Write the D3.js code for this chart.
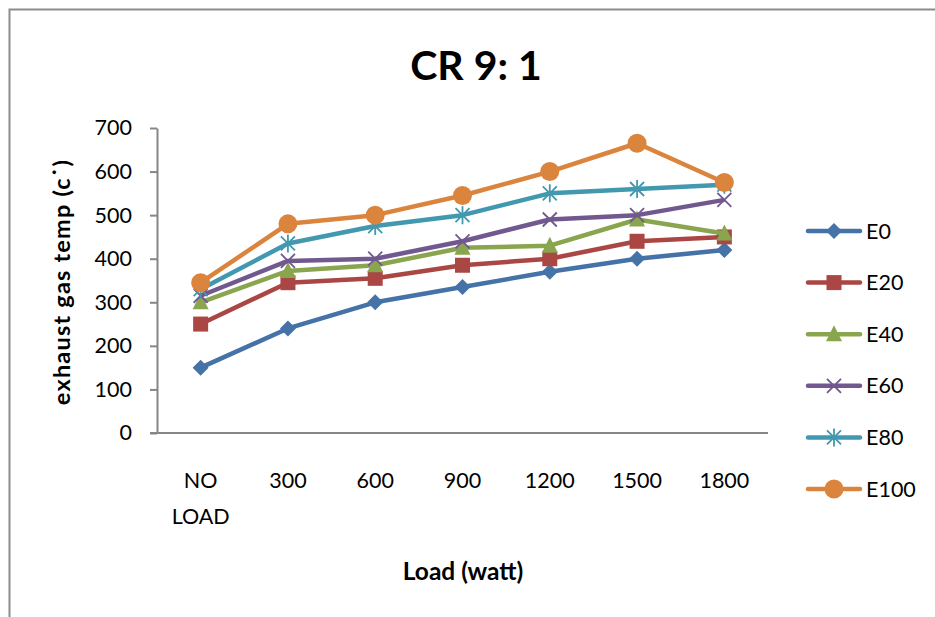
<!DOCTYPE html>
<html>
<head>
<meta charset="utf-8">
<script src="https://cdn.jsdelivr.net/npm/d3@7"></script>
<style>
	body { margin: 0; background: #fff; }
	svg { display: block; font-family: Lato, "Open Sans", sans-serif; }
</style>
</head>
<body>
<svg id="chart_svg"></svg>
<script>
// Chart data
const loads = ["NO LOAD", "300", "600", "900", "1200", "1500", "1800"];
const seriesNames = ["E0", "E20", "E40", "E60", "E80", "E100"];
const e0 = [150, 240, 300, 335, 370, 400, 420];
const e20 = [250, 345, 355, 385, 400, 440, 450];
const e40 = [300, 372, 385, 425, 430, 490, 458];
const e60 = [315, 395, 400, 440, 490, 500, 535];
const e80 = [330, 435, 475, 500, 550, 560, 570];
const e100 = [345, 480, 500, 545, 600, 665, 575];
const yTicks = [0, 100, 200, 300, 400, 500, 600, 700];

const seriesValues = [e0, e20, e40, e60, e80, e100];
const seriesColors = ["#4572A7", "#AA4643", "#89A54E", "#71588F", "#4198AF", "#DB843D"];
const seriesMarkers = ["diamond", "square", "triangle", "cross", "star", "circle"];

const width = 935;
const height = 617;

const svg = d3.select("#chart_svg")
	.attr("width", width)
	.attr("height", height);

// outer frame of the chart area
svg.append("path")
	.attr("d", `M${width + 5},9.5 L9.5,9.5 L9.5,${height + 5}`)
	.attr("fill", "none")
	.attr("stroke", "#8c8c8c")
	.attr("stroke-width", 2);

const plot = { left: 157, right: 768, top: 128, bottom: 433 };

const x = d3.scaleBand()
	.domain(loads)
	.range([plot.left, plot.right]);

const y = d3.scaleLinear()
	.domain([0, 700])
	.range([plot.bottom, plot.top]);

// title
svg.append("text")
	.attr("x", 476)
	.attr("y", 80)
	.attr("text-anchor", "middle")
	.attr("font-size", "41px")
	.attr("font-weight", "bold")
	.text("CR 9: 1");

// y axis
const yAxis = svg.append("g")
	.attr("transform", `translate(${plot.left}, 0)`)
	.call(d3.axisLeft(y).tickValues(yTicks).tickSize(7).tickPadding(18).tickSizeOuter(0));
yAxis.select(".domain").attr("stroke", "#868686").attr("stroke-width", 2);
yAxis.selectAll(".tick line").attr("stroke", "#868686").attr("stroke-width", 2);
yAxis.selectAll(".tick text")
	.attr("font-size", "21.5px")
	.attr("font-family", "Lato, 'Open Sans', sans-serif")
	.attr("fill", "#000");

// x axis line (no ticks)
svg.append("line")
	.attr("x1", plot.left - 7)
	.attr("x2", plot.right)
	.attr("y1", y(0))
	.attr("y2", y(0))
	.attr("stroke", "#868686")
	.attr("stroke-width", 2);

// x tick labels, wrapped by word
const xLabels = svg.append("g")
	.selectAll("text")
	.data(loads)
	.enter().append("text")
	.attr("x", d => x(d) + x.bandwidth() / 2)
	.attr("y", 488)
	.attr("text-anchor", "middle")
	.attr("font-size", "21.5px");

xLabels.selectAll("tspan")
	.data(d => d.split(" "))
	.enter().append("tspan")
	.attr("x", function () { return d3.select(this.parentNode).attr("x"); })
	.attr("dy", (d, i) => i === 0 ? 0 : 36)
	.text(d => d);

// axis titles
svg.append("text")
	.attr("x", 463)
	.attr("y", 580)
	.attr("text-anchor", "middle")
	.attr("font-size", "24.5px")
	.attr("font-weight", "bold")
	.text("Load (watt)");

svg.append("text")
	.attr("transform", "translate(70, 282) rotate(-90)")
	.attr("text-anchor", "middle")
	.attr("font-size", "23.5px")
	.attr("letter-spacing", "1.2px")
	.attr("font-weight", "bold")
	.text("exhaust gas temp (c\u02D9)");

// marker drawing helper
function drawMarker(g, type, color) {
	if (type === "diamond") {
		g.append("path").attr("d", "M0,-8 L8,0 L0,8 L-8,0 Z").attr("fill", color);
	} else if (type === "square") {
		g.append("rect").attr("x", -7.5).attr("y", -7.5).attr("width", 15).attr("height", 15).attr("fill", color);
	} else if (type === "triangle") {
		g.append("path").attr("d", "M0,-9 L8,7 L-8,7 Z").attr("fill", color);
	} else if (type === "cross") {
		g.append("path").attr("d", "M-7,-7 L7,7 M-7,7 L7,-7")
			.attr("stroke", color).attr("stroke-width", 1.8);
	} else if (type === "star") {
		g.append("path").attr("d", "M-7,-7 L7,7 M-7,7 L7,-7 M0,-9 L0,9")
			.attr("stroke", color).attr("stroke-width", 1.8);
	} else if (type === "circle") {
		g.append("circle").attr("r", 9.5).attr("fill", color);
	}
}

const line = d3.line()
	.x((d, i) => x(loads[i]) + x.bandwidth() / 2)
	.y(d => y(d));

// series lines and markers
seriesNames.forEach((name, s) => {
	const values = seriesValues[s];
	const color = seriesColors[s];
	const group = svg.append("g").attr("class", "series");

	group.append("path")
		.datum(values)
		.attr("d", line)
		.attr("fill", "none")
		.attr("stroke", color)
		.attr("stroke-width", 4.5)
		.attr("stroke-linejoin", "round");

	values.forEach((v, i) => {
		const m = group.append("g")
			.attr("transform", `translate(${x(loads[i]) + x.bandwidth() / 2}, ${y(v)})`);
		drawMarker(m, seriesMarkers[s], color);
	});
});

// legend
const legendGroup = svg.append("g")
	.attr("transform", "translate(808, 231)");

const legendItems = legendGroup.selectAll(".legend-item")
	.data(seriesNames)
	.enter().append("g")
	.attr("class", "legend-item")
	.attr("transform", (d, i) => `translate(0, ${i * 51.6})`);

legendItems.append("line")
	.attr("x1", 0)
	.attr("x2", 52)
	.attr("stroke", (d, i) => seriesColors[i])
	.attr("stroke-width", 4.5)
	.attr("stroke-linecap", "round");

legendItems.each(function (d, i) {
	const m = d3.select(this).append("g").attr("transform", "translate(26, 0)");
	drawMarker(m, seriesMarkers[i], seriesColors[i]);
});

legendItems.append("text")
	.attr("x", 58)
	.attr("y", 7.5)
	.attr("font-size", "21.5px")
	.text(d => d);
</script>
</body>
</html>
